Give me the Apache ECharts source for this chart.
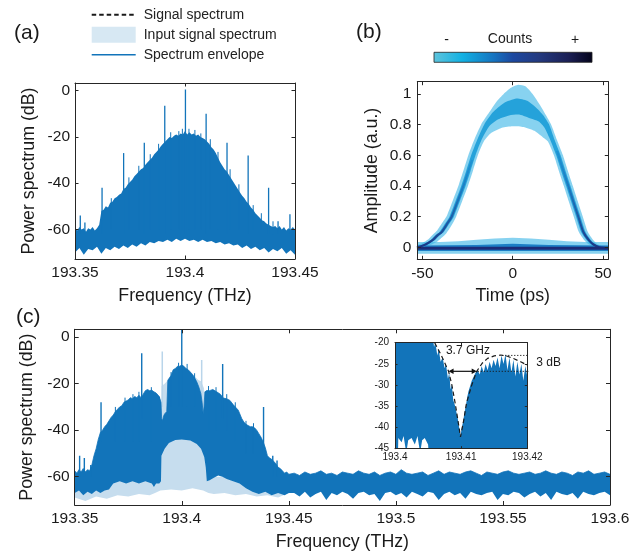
<!DOCTYPE html>
<html><head><meta charset="utf-8">
<script src="https://cdn.jsdelivr.net/npm/echarts@6/dist/echarts.min.js"></script>
<style>html,body{margin:0;padding:0;background:#fff}#c{width:641px;height:554px}</style>
</head><body><div id="c"></div>
<script>
const FONT = '"Liberation Sans", Arial, Helvetica, sans-serif';
const BLUE = '#1274ba';
const LIGHT = '#c6ddee';

// ---------- tick labels ----------
const ticksFreqA = [193.35, 193.4, 193.45];
const ticksFreqC = [193.35, 193.4, 193.45, 193.5, 193.55, 193.6];
const ticksFreqInset = [193.4, 193.41, 193.42];
const ticksPower = [-60, -40, -20, 0];
const ticksPowerInset = [-45, -40, -35, -30, -25, -20];
const ticksTime = [-50, 0, 50];
const ticksAmp = [0, 0.2, 0.4, 0.6, 0.8, 1];

// ---------- panel (a): spectrum (upper / lower envelope, comb lines [freq, top, base]) ----------
const aUpper = [[193.350,-59.5],[193.351,-60.5],[193.352,-59],[193.353,-60],[193.354,-59.5],[193.355,-61],[193.356,-59.5],[193.357,-60],[193.358,-59],[193.359,-60.5],[193.360,-59.5],[193.361,-58],[193.362,-52],[193.363,-51.5],[193.364,-50],[193.365,-50.5],[193.366,-48.5],[193.367,-48],[193.368,-46.5],[193.369,-46],[193.370,-45],[193.371,-44.5],[193.372,-42.5],[193.373,-42],[193.374,-40.5],[193.375,-39.5],[193.376,-38.5],[193.377,-37],[193.378,-36],[193.379,-35],[193.380,-34],[193.381,-33.5],[193.382,-32],[193.383,-31],[193.384,-30],[193.385,-29],[193.386,-27.5],[193.387,-26.5],[193.388,-25.5],[193.389,-24],[193.390,-23],[193.391,-22],[193.392,-21],[193.393,-20],[193.394,-20.5],[193.395,-19.5],[193.396,-19],[193.397,-19.5],[193.398,-18.5],[193.399,-19],[193.400,-17.5],[193.401,-19],[193.402,-18],[193.403,-19],[193.404,-18.5],[193.405,-19.5],[193.406,-19],[193.407,-20],[193.408,-20.5],[193.409,-21],[193.410,-22],[193.411,-23],[193.412,-24.5],[193.413,-25.5],[193.414,-27],[193.415,-29],[193.416,-31],[193.417,-32.5],[193.418,-34],[193.419,-35],[193.420,-36.5],[193.421,-38],[193.422,-39.5],[193.423,-41],[193.424,-42.5],[193.425,-44],[193.426,-45.5],[193.427,-46.5],[193.428,-48],[193.429,-49],[193.430,-50.5],[193.431,-51.5],[193.432,-53],[193.433,-54],[193.434,-55],[193.435,-56],[193.436,-56.5],[193.437,-57.5],[193.438,-58],[193.439,-58.5],[193.440,-59],[193.441,-58.5],[193.442,-59.5],[193.443,-58.5],[193.444,-60],[193.445,-59],[193.446,-60.5],[193.447,-59.5],[193.448,-60],[193.449,-59],[193.450,-60]];
const aLower = [[193.350,-70],[193.352,-68],[193.354,-71],[193.356,-68.5],[193.358,-69],[193.360,-67.5],[193.362,-70.5],[193.364,-68],[193.366,-69],[193.368,-67.5],[193.370,-68.5],[193.372,-67],[193.374,-68],[193.376,-66.5],[193.378,-67.5],[193.380,-66],[193.382,-67],[193.384,-65.5],[193.386,-66],[193.388,-65],[193.390,-65.5],[193.392,-64.5],[193.394,-65.5],[193.396,-64],[193.398,-65],[193.400,-64],[193.402,-65],[193.404,-64.5],[193.406,-65.5],[193.408,-64.5],[193.410,-65.5],[193.412,-65],[193.414,-66],[193.416,-65.5],[193.418,-66.5],[193.420,-66],[193.422,-67],[193.424,-66.5],[193.426,-68],[193.428,-67],[193.430,-68.5],[193.432,-67.5],[193.434,-69],[193.436,-68],[193.438,-70],[193.440,-68.5],[193.442,-69.5],[193.444,-68],[193.446,-70.5],[193.448,-69],[193.450,-71]];
const aSpikes = [[193.3524,-54,-62],[193.3545,-57,-62],[193.3623,-42,-62],[193.3721,-27,-62],[193.3815,-22.5,-62],[193.3908,-6.5,-62],[193.4002,0.5,-62],[193.4096,-10,-62],[193.4191,-22.5,-62],[193.4287,-28,-62],[193.4380,-42,-62],[193.4423,-56.5,-62],[193.4477,-53.5,-62]];
const aGrass = [[193.3665,-46.5,-60],[193.3745,-37.5,-60],[193.3790,-32.5,-60],[193.3842,-27.5,-60],[193.3880,-23,-60],[193.3935,-18,-60],[193.3972,-17.5,-60],[193.3988,-16.5,-60],[193.4018,-16.5,-60],[193.4045,-17,-60],[193.4072,-18.5,-60],[193.4115,-21,-60],[193.4150,-26.5,-60],[193.4205,-34,-60],[193.4245,-40.5,-60],[193.4310,-49.5,-60],[193.4347,-53,-60],[193.4400,-56.5,-62]];

// ---------- panel (b): eye diagram density bands ----------
const eyeLightOuter = [[-53,0.015],[-50.5,0.025],[-46.5,0.055],[-44,0.085],[-41.8,0.11],[-39,0.16],[-36.3,0.21],[-33,0.31],[-29.8,0.41],[-27,0.51],[-24.3,0.61],[-21,0.71],[-17.5,0.8],[-13,0.88],[-9,0.95],[-5,1.0],[-1,1.04],[3,1.06],[7,1.05],[11,1.0],[15,0.93],[18.5,0.86],[21.3,0.8],[24.5,0.7],[27.8,0.6],[30.5,0.5],[33.3,0.4],[36,0.3],[38.8,0.2],[41.6,0.1],[44.4,0.05],[47,0.02],[50,0.005],[53,0.0]];
const eyeLightInner = [[-51,0.0],[-45.5,0.015],[-41.5,0.04],[-39,0.065],[-36.8,0.09],[-34,0.14],[-31.3,0.2],[-28,0.3],[-24.8,0.4],[-22,0.5],[-19.3,0.6],[-16,0.69],[-12,0.745],[-6,0.78],[0,0.79],[6,0.785],[12,0.76],[16.5,0.72],[19.5,0.69],[22.8,0.6],[25.5,0.5],[28.3,0.4],[31,0.3],[33.8,0.2],[36.6,0.1],[39.4,0.05],[42,0.02],[46,0.0]];
const eyeMidOuter = [[-53,0.005],[-49.2,0.02],[-45.2,0.05],[-42.7,0.08],[-40.5,0.1],[-37.7,0.15],[-35,0.2],[-31.7,0.3],[-28.5,0.4],[-25.7,0.5],[-23,0.6],[-19.7,0.7],[-15.8,0.8],[-11,0.88],[-5,0.94],[2,0.97],[8,0.955],[13,0.91],[17,0.86],[20.2,0.8],[23.2,0.7],[26.5,0.6],[29.2,0.5],[32,0.4],[34.7,0.3],[37.5,0.2],[40.3,0.1],[43.1,0.05],[45.7,0.02],[49,0.0]];
const eyeMidInner = [[-50,-0.005],[-46.8,0.02],[-42.8,0.05],[-40.3,0.08],[-38.1,0.1],[-35.3,0.15],[-32.6,0.2],[-29.3,0.3],[-26.1,0.4],[-23.3,0.5],[-20.6,0.6],[-17.3,0.7],[-13,0.79],[-8,0.835],[-2,0.86],[4,0.865],[10,0.84],[14.5,0.82],[17.6,0.78],[20.8,0.7],[24.1,0.6],[26.8,0.5],[29.6,0.4],[32.3,0.3],[35.1,0.2],[37.9,0.1],[40.7,0.05],[43.3,0.02],[47,-0.005]];
const eyeCoreLeft = [[-53,0.0],[-50,0.01],[-48,0.02],[-44,0.05],[-41.5,0.08],[-39.3,0.1],[-36.5,0.15],[-33.8,0.2],[-30.5,0.3],[-27.3,0.4],[-24.5,0.5],[-22.5,0.57]];
const eyeCoreRight = [[24.5,0.63],[25.3,0.6],[28,0.5],[30.8,0.4],[33.5,0.3],[36.3,0.2],[39.1,0.1],[41.9,0.05],[44.5,0.02],[48,0.0],[53,-0.005]];
const zeroLightUpper = [[-53,0.035],[-40,0.035],[-30,0.04],[-20,0.05],[-10,0.058],[0,0.062],[10,0.058],[20,0.05],[30,0.04],[40,0.035],[53,0.035]];
const zeroLightLower = [[-53,-0.042],[53,-0.042]];
const zeroMidUpper = [[-53,0.012],[-20,0.016],[0,0.024],[20,0.016],[53,0.012]];
const zeroMidLower = [[-53,-0.024],[53,-0.024]];
const zeroCore = [[-53,-0.006],[53,-0.006]];

// ---------- panel (c): input (light) and output (dark) spectra ----------
const cLightUpper = [[193.35,-60],[193.389,-60],[193.3902,-40],[193.3906,-21],[193.392,-20],[193.3935,-18.5],[193.397,-14],[193.400,-13],[193.404,-15],[193.4077,-18.4],[193.409,-19],[193.4104,-22],[193.4108,-35],[193.4112,-44],[193.4118,-60],[193.6,-60]];
const cLightLower = [[193.35,-69],[193.355,-70.5],[193.36,-68.5],[193.365,-69.5],[193.37,-68],[193.375,-68.5],[193.38,-67.5],[193.385,-68],[193.3875,-67],[193.39,-66],[193.395,-65.5],[193.40,-66],[193.405,-65],[193.41,-66],[193.4125,-67],[193.415,-67.5],[193.42,-67],[193.425,-68],[193.43,-67.5],[193.435,-68.5],[193.44,-68],[193.445,-69],[193.45,-67],[193.452,-66],[193.6,-66]];
const cLightSpikes = [[193.3909,-6.2,-30],[193.4093,-9.8,-30]];
const cDarkUpperSignal = [[193.350,-57.5],[193.351,-58.5],[193.352,-57],[193.353,-58],[193.354,-56.5],[193.355,-58],[193.356,-57],[193.357,-57.5],[193.358,-55],[193.359,-51],[193.360,-48],[193.361,-44],[193.362,-41],[193.363,-40],[193.364,-38.5],[193.365,-37.5],[193.366,-36],[193.367,-34.5],[193.368,-33.5],[193.369,-32],[193.370,-31],[193.371,-30],[193.372,-29.5],[193.373,-28],[193.374,-27.5],[193.375,-27],[193.376,-26],[193.377,-26.5],[193.378,-25.5],[193.379,-26],[193.380,-25],[193.381,-26],[193.382,-24.5],[193.383,-23],[193.384,-22.5],[193.385,-23],[193.386,-22.8],[193.387,-23.5],[193.388,-24],[193.389,-25],[193.3898,-25.6],[193.3903,-28],[193.3906,-35],[193.391,-36],[193.3915,-34],[193.392,-33],[193.3930,-32],[193.3935,-18.5],[193.395,-16.5],[193.396,-14],[193.397,-13.5],[193.398,-12.5],[193.399,-12.5],[193.400,-12],[193.401,-12.5],[193.402,-13.5],[193.403,-14],[193.404,-15],[193.405,-16],[193.406,-17.5],[193.407,-19.2],[193.408,-21.5],[193.4089,-24.2],[193.4095,-28],[193.4100,-33],[193.4104,-30],[193.4108,-23.5],[193.4117,-22.7],[193.413,-23],[193.4145,-22.5],[193.4163,-23.5],[193.418,-24.5],[193.4194,-26.2],[193.421,-26.5],[193.4225,-27.2],[193.424,-29],[193.4264,-31.4],[193.428,-35],[193.429,-36.5],[193.430,-37.5],[193.431,-38],[193.432,-38.5],[193.433,-38.5],[193.434,-39],[193.435,-40],[193.436,-41.5],[193.437,-43],[193.438,-45],[193.439,-47.5],[193.440,-51],[193.441,-52],[193.442,-52.5],[193.443,-53.5],[193.444,-54.5],[193.445,-56],[193.446,-56.5],[193.447,-57.5],[193.448,-58.5],[193.449,-58],[193.450,-59]];
const cDarkLowerSignal = [[193.350,-67],[193.352,-66],[193.354,-68],[193.356,-66.5],[193.358,-67.5],[193.360,-66],[193.362,-67],[193.364,-66],[193.366,-65.5],[193.368,-63],[193.371,-62],[193.374,-63],[193.377,-62],[193.380,-63],[193.383,-62],[193.386,-63],[193.387,-64.5],[193.388,-63],[193.3895,-63],[193.3903,-62],[193.3905,-51],[193.392,-48],[193.394,-45.5],[193.397,-44.2],[193.400,-44],[193.404,-44.5],[193.407,-46],[193.409,-48],[193.4105,-51.5],[193.4112,-56],[193.4117,-62],[193.413,-61.5],[193.415,-60.5],[193.417,-59.5],[193.419,-60],[193.421,-61],[193.424,-62],[193.427,-63],[193.430,-65],[193.433,-66.5],[193.436,-67.5],[193.439,-66.5],[193.442,-68],[193.445,-67],[193.448,-68],[193.450,-67]];
const floorFreq = [193.4525,193.455,193.4575,193.46,193.4625,193.465,193.4675,193.47,193.4725,193.475,193.4775,193.48,193.4825,193.485,193.4875,193.49,193.4925,193.495,193.4975,193.5,193.5025,193.505,193.5075,193.51,193.5125,193.515,193.5175,193.52,193.5225,193.525,193.5275,193.53,193.5325,193.535,193.5375,193.54,193.5425,193.545,193.5475,193.55,193.5525,193.555,193.5575,193.56,193.5625,193.565,193.5675,193.57,193.5725,193.575,193.5775,193.58,193.5825,193.585,193.5875,193.59,193.5925,193.595,193.5975,193.6];
const floorTop = [-58.5,-59.5,-58,-59,-58.5,-57.5,-59,-58.5,-59.5,-58,-58.5,-59,-57.5,-58.5,-59,-58,-59.5,-58.5,-58,-59,-57,-58.5,-59,-58.5,-58,-59.5,-58.5,-57.5,-59,-58,-58.5,-59,-58,-57.5,-58.5,-59.5,-58,-58.5,-59,-58,-57.5,-58.5,-59,-58.5,-58,-59,-58.5,-57.5,-58.5,-59,-58,-58.5,-59.5,-58,-58.5,-57.5,-59,-58.5,-58,-59];
const floorBottom = [-67,-68.5,-66.5,-69,-67.5,-66.5,-70,-67,-68,-66.5,-67.5,-69.5,-67,-66.5,-68,-67.5,-70.5,-67,-66.5,-68,-67,-69,-66.5,-67.5,-68.5,-66.5,-67,-70,-67.5,-66.5,-68,-67,-69.5,-66.5,-67.5,-68,-67,-66.5,-70,-67.5,-68,-66.5,-67,-69,-67.5,-66.5,-68.5,-67,-70,-66.5,-67.5,-68,-67,-69.5,-66.5,-67.5,-68,-67,-66.5,-68];
const cDarkSpikes = [[193.3523,-51,-60],[193.3545,-52,-60],[193.3575,-55,-60],[193.3623,-28,-45],[193.3813,-6.9,-35],[193.4000,3.4,-30],[193.4191,-11.5,-35],[193.4382,-30,-50],[193.4425,-51,-60],[193.4445,-53,-60]];
const cGrass = [[193.3690,-30,-45],[193.3735,-26,-45],[193.3772,-24.5,-45],[193.3800,-23.5,-45],[193.3858,-21.5,-45],[193.3950,-15,-30],[193.3985,-11,-30],[193.4025,-11.5,-30],[193.4060,-15.5,-30],[193.4125,-21,-40],[193.4160,-21.5,-40],[193.4210,-24.5,-40],[193.4250,-28,-45],[193.4300,-36,-50],[193.4335,-37,-50]];

// ---------- inset: notch detail ----------
const insetUpper = [[193.4000,-15],[193.4050,-15],[193.4054,-19],[193.4056,-17],[193.4059,-21],[193.4061,-20],[193.4064,-23],[193.4066,-21.5],[193.4069,-24.5],[193.4072,-23.5],[193.4075,-26],[193.4077,-25],[193.4080,-28.5],[193.4082,-27],[193.4084,-31],[193.4086,-30],[193.4088,-33.5],[193.4091,-35],[193.4093,-36.5],[193.4095,-38],[193.4097,-40],[193.4099,-42],[193.4101,-40],[193.4103,-38.5],[193.4105,-36.5],[193.4107,-35],[193.4109,-33],[193.4111,-31.5],[193.4113,-30.5],[193.4116,-29],[193.4119,-28],[193.4122,-27],[193.4125,-26.5],[193.4128,-27.5],[193.4131,-25.5],[193.4134,-27],[193.4137,-25],[193.4140,-26.5],[193.4143,-24.5],[193.4146,-26],[193.4149,-24],[193.4152,-25.5],[193.4155,-23.5],[193.4158,-26],[193.4161,-23],[193.4164,-25],[193.4167,-22.7],[193.4170,-26.5],[193.4173,-23.5],[193.4176,-27],[193.4179,-24],[193.4182,-28],[193.4185,-24.5],[193.4188,-27.5],[193.4191,-25],[193.4194,-29],[193.4197,-25.5],[193.4200,-28]];
const insetLower = [[193.4000,-50],[193.4004,-50],[193.4005,-42.5],[193.4010,-43.5],[193.4013,-42],[193.4017,-46],[193.4020,-43],[193.4025,-42.5],[193.4030,-44],[193.4034,-42],[193.4038,-46],[193.4041,-43],[193.4045,-42.5],[193.4050,-44],[193.4053,-50],[193.4200,-50]];
const signalCurve = [[193.4060,-20],[193.4070,-23],[193.4081,-26.75],[193.4086,-30],[193.4091,-34.3],[193.4095,-38.2],[193.4099,-42.2],[193.4104,-38.2],[193.4108,-34.3],[193.4116,-30],[193.41235,-26.75],[193.4132,-24.8],[193.4140,-23.7],[193.4150,-23.1],[193.4160,-22.9],[193.4170,-23.2],[193.4180,-23.8],[193.4190,-24.5],[193.4200,-25.3]];
const dottedTop = [[193.4162,-23],[193.4217,-23]];
const dottedBottom = [[193.4125,-26.75],[193.4217,-26.75]];
const widthArrow = [[193.4081,193.41235,-26.75]];
const insetNotes = [[193.4077,-21.9,'3.7 GHz'],[193.42135,-24.8,'3 dB']];

// ---------- helpers ----------
const fmt = v => String(Math.round(v * 1000) / 1000);
function band(name, ax, upper, lower, color, z, smooth) {
  const pts = upper.concat(lower.slice().reverse());
  return { type: 'custom', name, xAxisIndex: ax, yAxisIndex: ax, z, clip: true, silent: true,
    itemStyle: { color }, data: [pts[0]],
    renderItem: (params, api) => ({ type: 'polygon',
      shape: { points: pts.map(p => api.coord(p)), smooth: smooth || 0 },
      style: { fill: color } }) };
}
function spikes(name, ax, list, color, width, z) {
  return { type: 'custom', name, xAxisIndex: ax, yAxisIndex: ax, z, clip: true, silent: true, data: list,
    renderItem: (params, api) => {
      const x = api.value(0), top = api.value(1), base = api.value(2);
      const p1 = api.coord([x, base]), p2 = api.coord([x, top]);
      return { type: 'line', shape: { x1: p1[0], y1: p1[1], x2: p2[0], y2: p2[1] },
        style: { stroke: color, lineWidth: width } };
    } };
}
function line(name, ax, data, color, width, type, z, clip, smooth) {
  return { type: 'line', name, xAxisIndex: ax, yAxisIndex: ax, data, symbol: 'none', showSymbol: false,
    smooth: smooth || false, lineStyle: { color, width, type }, itemStyle: { color }, z,
    clip: clip !== false, silent: true };
}
const AX = '#262626';
function axes(dir, grid, min, max, ticks, o) {
  const common = { type: 'value', gridIndex: grid, min, max, splitLine: { show: false }, z: 8,
    axisLine: { show: true, onZero: false, lineStyle: { color: AX, width: 1 } },
    axisTick: { show: true, inside: true, length: o.tick, customValues: ticks, lineStyle: { color: AX, width: 1 } } };
  const main = Object.assign({}, common, {
    position: dir === 'x' ? 'bottom' : 'left',
    axisLabel: { show: true, customValues: ticks, margin: o.margin, fontSize: o.fs, color: '#1a1a1a', fontFamily: FONT, formatter: fmt },
    name: o.name || '', nameLocation: 'middle', nameGap: o.nameGap || 0,
    nameTextStyle: { fontSize: 17.8, color: '#1a1a1a', fontFamily: FONT } });
  const mirror = Object.assign({}, common, { position: dir === 'x' ? 'top' : 'right', axisLabel: { show: false }, name: '' });
  return [main, mirror];
}

const xAxis = [].concat(
  axes('x', 0, 193.35, 193.45, ticksFreqA, { tick: 3.5, margin: 6, fs: 15.5, name: 'Frequency (THz)', nameGap: 28 }),
  axes('x', 1, -52.8, 52.9, ticksTime, { tick: 3.5, margin: 6, fs: 15.5, name: 'Time (ps)', nameGap: 28 }),
  axes('x', 2, 193.35, 193.6, ticksFreqC, { tick: 4, margin: 6, fs: 15.5, name: 'Frequency (THz)', nameGap: 28 }),
  axes('x', 3, 193.4, 193.42, ticksFreqInset, { tick: 2.5, margin: 4, fs: 10 })
);
const yAxis = [].concat(
  axes('y', 0, -72.8, 3.3, ticksPower, { tick: 3.5, margin: 5, fs: 15.5, name: 'Power spectrum (dB)', nameGap: 37 }),
  axes('y', 1, -0.078, 1.08, ticksAmp, { tick: 3.5, margin: 6, fs: 15.5, name: 'Amplitude (a.u.)', nameGap: 36 }),
  axes('y', 2, -72.2, 3.4, ticksPower, { tick: 4, margin: 5, fs: 15.5, name: 'Power spectrum (dB)', nameGap: 38 }),
  axes('y', 3, -45, -20, ticksPowerInset, { tick: 2.5, margin: 6, fs: 10 })
);
// axis index pairs: grid g uses xAxis/yAxis index 2*g
const A = 0, B = 2, C = 4, I = 6;

const floorUpper = floorFreq.map((f, i) => [f, floorTop[i]]);
const floorLower = floorFreq.map((f, i) => [f, floorBottom[i]]);
const cDarkUpper = cDarkUpperSignal.concat(floorUpper);
const cDarkLower = cDarkLowerSignal.concat(floorLower);

const EYE_LIGHT = 'rgba(62,182,230,0.62)';
const EYE_MID = '#25a2da';
const coreGrad = { type: 'linear', x: 0, y: 0, x2: 0, y2: 1,
  colorStops: [{ offset: 0, color: 'rgba(20,120,200,0.35)' }, { offset: 1, color: '#1b3283' }] };

const series = [
  // (a)
  band('Spectrum (a)', A, aUpper, aLower, BLUE, 3),
  spikes('Comb (a)', A, aSpikes, BLUE, 1.3, 4),
  spikes('Fine structure (a)', A, aGrass, BLUE, 1, 4),
  // (b)
  band('Zero level light', B, zeroLightUpper, zeroLightLower, EYE_LIGHT, 1),
  band('Pulse light', B, eyeLightOuter, eyeLightInner, EYE_LIGHT, 2, 0.2),
  band('Zero level mid', B, zeroMidUpper, zeroMidLower, '#1c7fc6', 3),
  band('Pulse mid', B, eyeMidOuter, eyeMidInner, EYE_MID, 3, 0.2),
  line('Pulse core left', B, eyeCoreLeft, coreGrad, 2.2, 'solid', 4, true, 0.3),
  line('Pulse core right', B, eyeCoreRight, coreGrad, 2.2, 'solid', 4, true, 0.3),
  line('Zero level core', B, zeroCore, '#1b2c78', 3.2, 'solid', 4),
  // (c)
  band('Input signal spectrum', C, cLightUpper, cLightLower, LIGHT, 2),
  spikes('Input comb', C, cLightSpikes, '#b9d5ea', 1.5, 2),
  band('Output spectrum', C, cDarkUpper, cDarkLower, BLUE, 3),
  spikes('Output comb', C, cDarkSpikes, BLUE, 1.4, 4),
  spikes('Fine structure (c)', C, cGrass, BLUE, 1, 4),
  line('Spectrum envelope', C, cDarkUpper, BLUE, 0.8, 'solid', 4),
  // inset
  band('Notch detail', I, insetUpper, insetLower, BLUE, 5),
  line('Signal spectrum', I, signalCurve, '#1a1a1a', 1.2, [4.5, 3], 6),
  line('3 dB top', I, dottedTop, '#1a1a1a', 1, [1.2, 1.8], 6, false),
  line('3 dB bottom', I, dottedBottom, '#1a1a1a', 1, [1.2, 1.8], 6, false),
  { type: 'custom', name: 'Width arrow', xAxisIndex: I, yAxisIndex: I, z: 7, clip: false, silent: true, data: widthArrow,
    renderItem: (params, api) => {
      const p1 = api.coord([api.value(0), api.value(2)]), p2 = api.coord([api.value(1), api.value(2)]);
      const h = 5, w = 2.8;
      return { type: 'group', children: [
        { type: 'line', shape: { x1: p1[0] + 2, y1: p1[1], x2: p2[0] - 2, y2: p2[1] }, style: { stroke: '#111', lineWidth: 1.2 } },
        { type: 'polygon', shape: { points: [[p1[0], p1[1]], [p1[0] + h, p1[1] - w], [p1[0] + h, p1[1] + w]] }, style: { fill: '#111' } },
        { type: 'polygon', shape: { points: [[p2[0], p2[1]], [p2[0] - h, p2[1] - w], [p2[0] - h, p2[1] + w]] }, style: { fill: '#111' } }
      ] };
    } },
  { type: 'custom', name: 'Notes', xAxisIndex: I, yAxisIndex: I, z: 7, clip: false, silent: true, data: insetNotes,
    renderItem: (params, api) => {
      const d = insetNotes[params.dataIndex];
      const p = api.coord([d[0], d[1]]);
      return { type: 'text', x: p[0], y: p[1], style: { text: d[2], fontSize: 12, fontFamily: FONT, fill: '#1a1a1a', align: 'left', verticalAlign: 'middle' } };
    } }
];

const chart = echarts.init(document.getElementById('c'), null, { renderer: 'canvas' });
chart.setOption({
  animation: false,
  backgroundColor: '#fff',
  textStyle: { fontFamily: FONT },
  grid: [
    { left: 75, top: 83, width: 220, height: 176, outerBoundsMode: 'none' },
    { left: 417.3, top: 81.7, width: 191, height: 177.6, outerBoundsMode: 'none' },
    { left: 74.7, top: 329.3, width: 535.3, height: 175.7, outerBoundsMode: 'none' },
    { left: 395, top: 342.7, width: 132.3, height: 106, show: true, backgroundColor: '#fff', borderWidth: 0, outerBoundsMode: 'none' }
  ],
  xAxis, yAxis, series,
  legend: {
    orient: 'vertical', left: 90.7, top: 7.7, padding: 0, itemWidth: 44, itemHeight: 16, itemGap: 5,
    selectedMode: false, textStyle: { fontSize: 14, color: '#222', fontFamily: FONT, padding: [0, 0, 0, 3] },
    data: [
      { name: 'Signal spectrum', itemStyle: { opacity: 0 } },
      { name: 'Input signal spectrum', icon: 'rect', itemStyle: { color: '#d7e8f3' } },
      { name: 'Spectrum envelope', itemStyle: { opacity: 0 }, lineStyle: { width: 1.5 } }
    ]
  },
  graphic: [
    { type: 'text', x: 14, y: 33, style: { text: '(a)', fontSize: 21, fontFamily: FONT, fill: '#1a1a1a', verticalAlign: 'middle' } },
    { type: 'text', x: 356, y: 32, style: { text: '(b)', fontSize: 21, fontFamily: FONT, fill: '#1a1a1a', verticalAlign: 'middle' } },
    { type: 'text', x: 16, y: 317, style: { text: '(c)', fontSize: 21, fontFamily: FONT, fill: '#1a1a1a', verticalAlign: 'middle' } },
    { type: 'rect', x: 434, y: 52.3, shape: { width: 158, height: 10 },
      style: { fill: new echarts.graphic.LinearGradient(0, 0, 1, 0, [
        { offset: 0, color: '#5fc4dc' }, { offset: 0.18, color: '#12b1e3' }, { offset: 0.38, color: '#1573c0' },
        { offset: 0.5, color: '#1c48a0' }, { offset: 0.66, color: '#243a80' }, { offset: 0.85, color: '#1b1f55' },
        { offset: 1, color: '#03031a' }]), stroke: '#222', lineWidth: 0.8 } },
    { type: 'text', x: 446.7, y: 40, style: { text: '-', fontSize: 14, fontFamily: FONT, fill: '#1a1a1a', align: 'center', verticalAlign: 'middle' } },
    { type: 'text', x: 510, y: 39, style: { text: 'Counts', fontSize: 14, fontFamily: FONT, fill: '#1a1a1a', align: 'center', verticalAlign: 'middle' } },
    { type: 'text', x: 575, y: 40, style: { text: '+', fontSize: 14, fontFamily: FONT, fill: '#1a1a1a', align: 'center', verticalAlign: 'middle' } }
  ]
});
</script></body></html>
